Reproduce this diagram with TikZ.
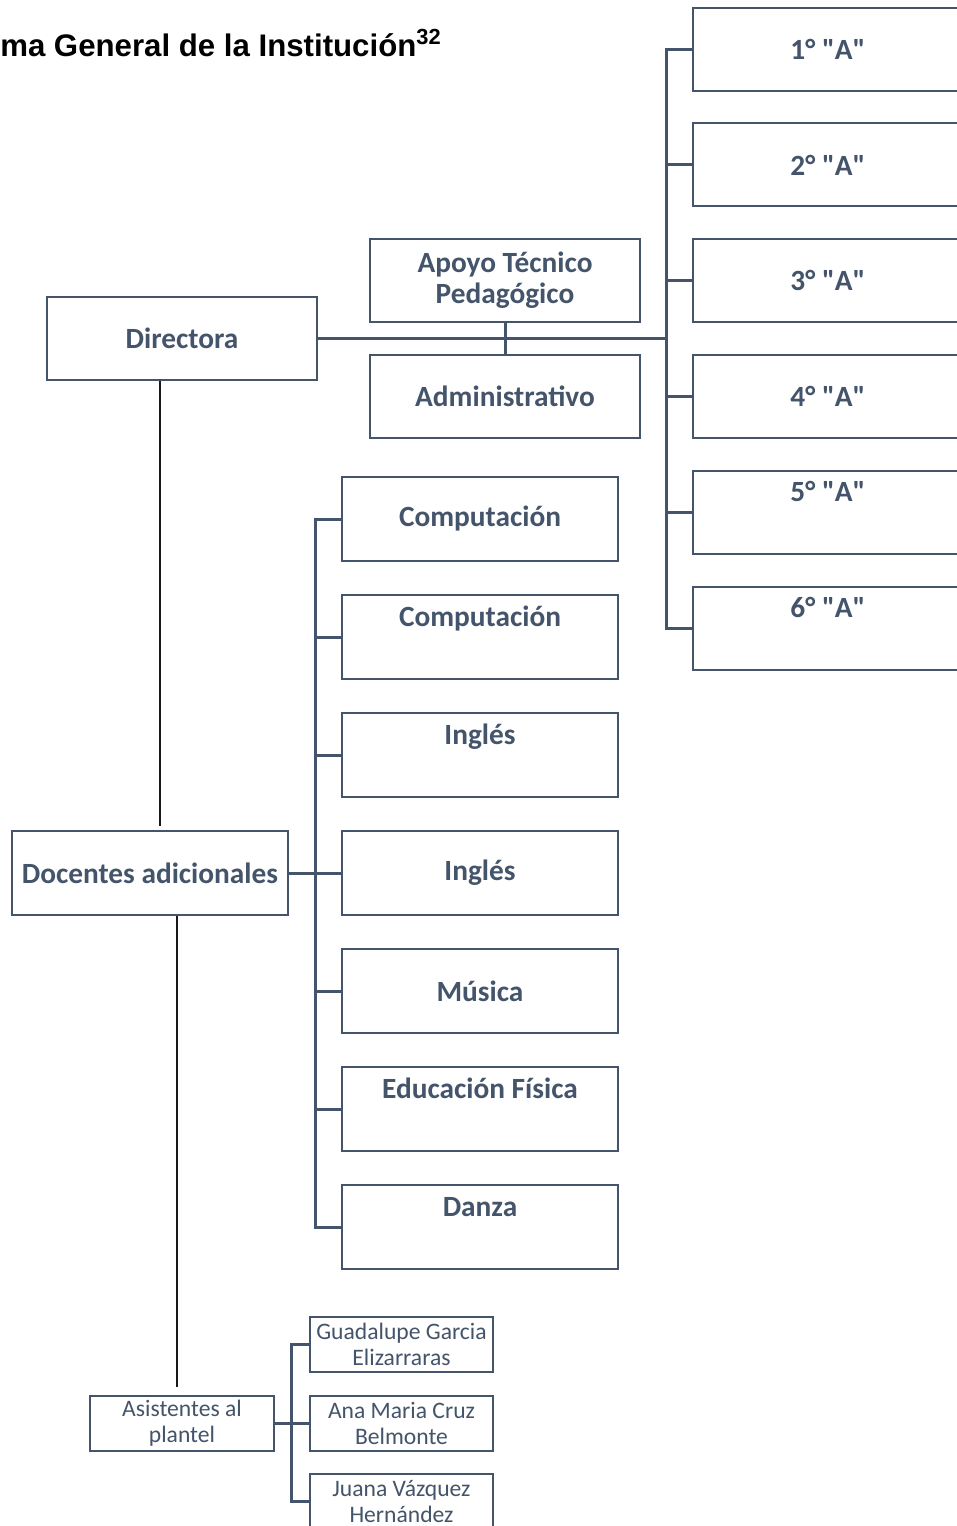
\documentclass[tikz,border=0pt]{standalone}
\usepackage{fontspec}
\setmainfont{Carlito}
\newfontfamily\titlefont{Liberation Sans}
\usetikzlibrary{positioning,calc}
\definecolor{slate}{HTML}{44546A}

\tikzset{
  box/.style={draw=slate,line width=1.5pt,fill=white,text=slate,inner sep=0pt,align=center,
    font=\fontsize{22}{23.5}\selectfont\bfseries,minimum width=202.5pt,minimum height=62.25pt},
  widebox/.style={box,minimum width=207pt,minimum height=63pt},
  namebox/.style={box,font=\fontsize{17.7}{19.5}\selectfont,minimum width=137.5pt,minimum height=41.25pt},
  link/.style={draw=slate,line width=2.25pt},
  thinlink/.style={draw=black!90,line width=0.8pt}
}
\newcommand{\grp}[1]{#1° \textquotedbl A\textquotedbl}

\begin{document}
\begin{tikzpicture}[x=0.75pt,y=-0.75pt]
      \useasboundingbox (0,0) rectangle (956,1526);
      % Title
      \node[anchor=base west,inner sep=0pt,font=\titlefont\fontsize{23.4}{27}\selectfont\bfseries] (title) at (0,57) {ma General de la Institución\textsuperscript{32}};
      % Direction
      \node[box] (dir) at (182,338.5) {Directora};
      \node[box] (atp) at (505,280.5) {Apoyo Técnico\\Pedagógico};
      \node[box] (adm) at (505,396.5) {Administrativo};
      % Groups
      \node[box] (g1) at (828,49.5) {\grp{1}};
      \node[box] (g2) at (828,165) {\grp{2}};
      \node[box] (g3) at (828,280.5) {\grp{3}};
      \node[box] (g4) at (828,396.5) {\grp{4}};
      \node[box] (g5) at (828,512) {\grp{5}\\\strut};
      \node[box] (g6) at (828,628) {\grp{6}\\\strut};
      % Additional teachers
      \node[widebox] (doc) at (150,873) {Docentes adicionales};
      \node[widebox] (comp1) at (480,519) {Computación};
      \node[widebox] (comp2) at (480,637) {Computación\\\strut};
      \node[widebox] (ing1) at (480,755) {Inglés\\\strut};
      \node[widebox] (ing2) at (480,873) {Inglés};
      \node[widebox] (mus) at (480,991) {Música};
      \node[widebox] (edf) at (480,1109) {Educación Física\\\strut};
      \node[widebox] (dan) at (480,1227) {Danza\\\strut};
      % Assistants
      \node[namebox] (asis) at (182,1423.5) {Asistentes al\\plantel};
      \node[namebox] (guad) at (401.5,1344.5) {Guadalupe Garcia\\Elizarraras};
      \node[namebox] (ana) at (401.5,1423.5) {Ana Maria Cruz\\Belmonte};
      \node[namebox] (juana) at (401.5,1501.5) {Juana Vázquez\\Hernández};
      % Buses
      \coordinate (rbus) at (666,0);
      \coordinate (mbus) at (315,0);
      \coordinate (bbus) at (291,0);
      \coordinate (dirline) at (160,0);
      \coordinate (docline) at (177,0);
      % Connectors
      \draw[link] (dir.east) -- (dir.east -| rbus);
      \draw[link] (atp.south) -- (adm.north);
      \draw[link] (g1.west) -- (g1.west -| rbus) -- (g6.west -| rbus) -- (g6.west);
      \draw[link] (g2.west -| rbus) -- (g2.west);
      \draw[link] (g3.west -| rbus) -- (g3.west);
      \draw[link] (g4.west -| rbus) -- (g4.west);
      \draw[link] (g5.west -| rbus) -- (g5.west);
      \draw[thinlink,shorten >=3pt] (dir.south -| dirline) -- (doc.north -| dirline);
      \draw[link] (doc.east) -- (ing2.west);
      \draw[link] (comp1.west) -- (comp1.west -| mbus) -- (dan.west -| mbus) -- (dan.west);
      \draw[link] (comp2.west -| mbus) -- (comp2.west);
      \draw[link] (ing1.west -| mbus) -- (ing1.west);
      \draw[link] (mus.west -| mbus) -- (mus.west);
      \draw[link] (edf.west -| mbus) -- (edf.west);
      \draw[thinlink,shorten >=6pt] (doc.south -| docline) -- (asis.north -| docline);
      \draw[link] (asis.east) -- (ana.west);
      \draw[link] (guad.west) -- (guad.west -| bbus) -- (juana.west -| bbus) -- (juana.west);
\end{tikzpicture}
\end{document}
